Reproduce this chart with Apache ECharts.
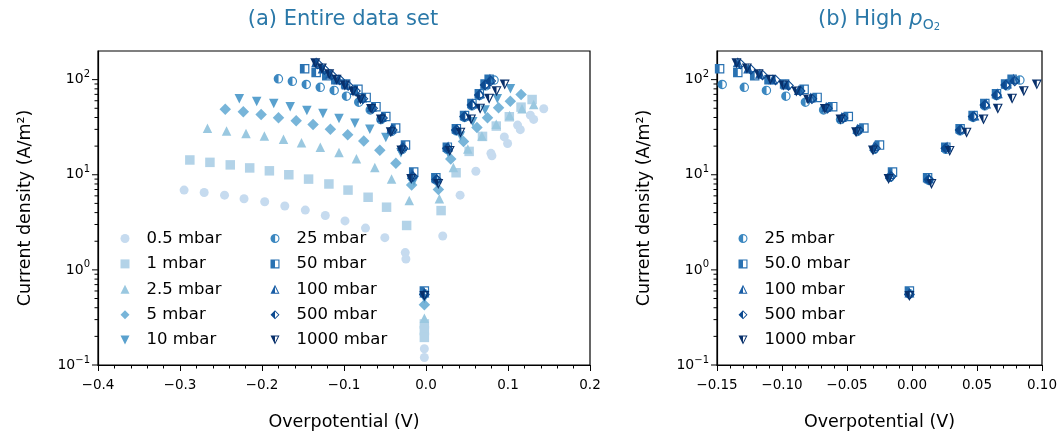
<!DOCTYPE html>
<html>
<head>
<meta charset="utf-8">
<script src="https://cdn.jsdelivr.net/npm/echarts@6/dist/echarts.min.js"></script>
<style>
  html, body { margin: 0; padding: 0; background: #fff; }
  #chart { width: 1063px; height: 436px; }
</style>
</head>
<body>
<div id="chart"></div>
<script>
// Current density (A/m²) against overpotential (V), one series per O2 partial pressure.
// Each point: [overpotential, current density].
const p0_5 = [[-0.295,6.9],[-0.2705,6.5],[-0.2457,6.1],[-0.2219,5.6],[-0.1967,5.2],[-0.1722,4.7],[-0.1472,4.25],[-0.1228,3.73],[-0.0988,3.27],[-0.0738,2.75],[-0.0502,2.18],[-0.0253,1.52],[-0.0245,1.3],[-0.002,0.148],[-0.002,0.12],[0.0204,2.27],[0.0416,6.1],[0.0608,10.9],[0.0792,16.8],[0.0804,15.8],[0.0955,25],[0.0995,21.3],[0.1117,33.3],[0.115,29.8],[0.1273,42.3],[0.1313,38.2],[0.1436,49.4]];
const p1 = [[-0.288,14.3],[-0.2635,13.5],[-0.2387,12.7],[-0.215,11.8],[-0.191,11.0],[-0.1673,10.0],[-0.1432,9.0],[-0.1184,8.0],[-0.0951,6.9],[-0.0706,5.8],[-0.0481,4.56],[-0.0236,2.93],[-0.002,0.27],[-0.002,0.23],[-0.002,0.195],[0.0184,4.2],[0.0367,10.5],[0.0526,17.6],[0.0689,25.3],[0.0857,32.5],[0.1016,40.7],[0.1159,51.4],[0.1294,61.8]];
const p2_5 = [[-0.2665,30.8],[-0.2432,28.8],[-0.2195,27.1],[-0.1971,25.6],[-0.1738,23.6],[-0.1518,21.7],[-0.1289,19.5],[-0.1061,17.1],[-0.0848,14.7],[-0.0624,11.9],[-0.042,9.0],[-0.0204,5.35],[-0.002,0.31],[0.0163,5.6],[0.0334,11.9],[0.051,18.6],[0.0682,25.6],[0.0857,33.9],[0.102,42],[0.1171,49.4],[0.1313,54.8]];
const p5 = [[-0.2448,48.7],[-0.2228,46],[-0.2011,43],[-0.1799,39.8],[-0.1583,37],[-0.1377,33.8],[-0.1166,30],[-0.0955,26.3],[-0.0759,22.7],[-0.0563,18.1],[-0.0367,13.2],[-0.0175,7.8],[-0.002,0.43],[0.0151,7.0],[0.0302,14.6],[0.0457,22.3],[0.0621,31.3],[0.075,39.8],[0.0885,50.6],[0.1028,59.3],[0.1159,69.7]];
const p10 = [[-0.2277,63],[-0.2065,59],[-0.1857,56],[-0.1656,52],[-0.1453,47.5],[-0.1257,44],[-0.1061,39],[-0.0867,34.7],[-0.0685,30],[-0.049,24.6],[-0.0306,17],[-0.0147,8.6],[-0.002,0.5],[0.013,8.2],[0.027,17],[0.042,25.5],[0.057,36],[0.072,48],[0.087,63],[0.103,80]];
const p25 = [[-0.180,102],[-0.163,96],[-0.146,89],[-0.129,83],[-0.112,77],[-0.097,67],[-0.082,58],[-0.068,48],[-0.055,38],[-0.042,28.5],[-0.029,18.5],[-0.017,9.4],[-0.002,0.56],[0.013,8.7],[0.026,18.5],[0.037,29],[0.047,40],[0.056,53],[0.065,68],[0.073,86],[0.083,99]];
const p50 = [[-0.148,130],[-0.134,119],[-0.121,110],[-0.110,100],[-0.098,90],[-0.083,79],[-0.073,65],[-0.061,52],[-0.049,41],[-0.037,31],[-0.025,20.5],[-0.015,10.7],[-0.002,0.6],[0.012,9.3],[0.026,19.5],[0.037,30.5],[0.047,42],[0.056,56],[0.065,71],[0.072,90],[0.077,101]];
const p100 = [[-0.134,152],[-0.126,131],[-0.117,115],[-0.107,101],[-0.097,89],[-0.087,78],[-0.078,65],[-0.066,52],[-0.054,40.5],[-0.042,30.5],[-0.029,20],[-0.017,10.2],[-0.002,0.58],[0.013,9.2],[0.027,19.8],[0.038,30.5],[0.048,42],[0.057,56],[0.066,72],[0.073,91],[0.078,102]];
const p500 = [[-0.132,146],[-0.124,128],[-0.115,112],[-0.105,99],[-0.095,87],[-0.086,76],[-0.077,63],[-0.065,50],[-0.053,39.5],[-0.041,29.5],[-0.028,19],[-0.016,9.6],[-0.002,0.55],[0.013,8.9],[0.026,19],[0.037,29.5],[0.047,41],[0.056,54],[0.065,69],[0.072,88],[0.079,97]];
const p1000 = [[-0.135,149],[-0.127,131],[-0.118,114],[-0.109,100],[-0.099,87],[-0.089,75],[-0.080,62],[-0.067,49],[-0.055,38],[-0.043,28],[-0.030,18],[-0.018,9.0],[-0.002,0.53],[0.015,8.0],[0.029,17.8],[0.042,27.7],[0.055,38.2],[0.066,49.4],[0.077,63],[0.086,75.5],[0.096,88.7]];

const namesAll = ['0.5 mbar','1 mbar','2.5 mbar','5 mbar','10 mbar','25 mbar','50 mbar','100 mbar','500 mbar','1000 mbar'];
const namesHigh = ['25 mbar','50.0 mbar','100 mbar','500 mbar','1000 mbar'];
const titleA = '(a) Entire data set';
const xName = 'Overpotential (V)';
const yName = 'Current density (A/m\u00b2)';

const xRangeA = [-0.4, 0.2], xStepA = 0.1;
const xRangeB = [-0.15, 0.10], xStepB = 0.05;
const yRange = [0.1, 200];
// major and minor ticks of the logarithmic current axis
const yTickValues = [0.1,0.2,0.3,0.4,0.5,0.6,0.7,0.8,0.9,1,2,3,4,5,6,7,8,9,10,20,30,40,50,60,70,80,90,100];

const FONT = 'DejaVu Sans';
const TITLE_COLOR = '#2a78a8';
const palette = ['#c6dbef','#b3d3e8','#9ac8e0','#78b5d9','#5aa1ce','#3b87c0','#2a72b2','#1a5ea6','#0c4a90','#08306b'];

// marker shapes; the half-filled ones have their right half cut out inside the outline
const triDown = 'path://M0 0L20 0L10 20Z';
const halfCircle = 'path://M10 0A10 10 0 1 1 10 20A10 10 0 1 1 10 0ZM10.3 2.506L10.3 17.494A7.5 7.5 0 0 0 10.3 2.506Z';
const halfSquare = 'path://M0 0L20 0L20 20L0 20ZM10 2.5L10 17.5L17.5 17.5L17.5 2.5Z';
const halfTriUp = 'path://M10 0L20 20L0 20ZM10 4.92L10 17.8L16.44 17.8Z';
const halfDiamond = 'path://M10 0L20 10L10 20L0 10ZM10 2.83L10 17.17L17.17 10Z';
const halfTriDown = 'path://M0 0L20 0L10 20ZM10 2.2L10 15.08L16.44 2.2Z';

const seriesDefs = [
  { data: p0_5, symbol: 'circle', size: 9 },
  { data: p1, symbol: 'rect', size: 9.5 },
  { data: p2_5, symbol: 'triangle', size: 9.5 },
  { data: p5, symbol: 'diamond', size: 11.5 },
  { data: p10, symbol: triDown, size: 9.5 },
  { data: p25, symbol: halfCircle, size: 9.5 },
  { data: p50, symbol: halfSquare, size: 9.5 },
  { data: p100, symbol: halfTriUp, size: 10 },
  { data: p500, symbol: halfDiamond, size: 11 },
  { data: p1000, symbol: halfTriDown, size: 10 }
];

function fmtX(digits) {
  return function (v) {
    if (Math.abs(v) < 1e-9) return (0).toFixed(digits);
    return (v < 0 ? '\u2212' : '') + Math.abs(v).toFixed(digits);
  };
}
function fmtY(v) {
  const l = Math.log10(v);
  const e = Math.round(l);
  if (Math.abs(l - e) > 1e-6) return '';
  return '{b|10}{s|' + (e < 0 ? '\u2212' : '') + Math.abs(e) + '}';
}

function xAxis(gridIndex, range, step, digits) {
  return {
    type: 'value', gridIndex, min: range[0], max: range[1], interval: step,
    name: xName, nameLocation: 'middle', nameGap: 48,
    nameTextStyle: { fontFamily: FONT, fontSize: 17.5, color: '#000' },
    axisLine: { show: true, onZero: false, lineStyle: { color: '#000', width: 1.2 } },
    axisTick: { show: true, inside: false, length: 6, lineStyle: { color: '#000', width: 1 } },
    minorTick: { show: true, splitNumber: 5, length: 3.5, lineStyle: { color: '#000', width: 1 } },
    splitLine: { show: false }, minorSplitLine: { show: false },
    axisLabel: { formatter: fmtX(digits), fontFamily: FONT, fontSize: 13.5, color: '#000', margin: 13, showMinLabel: true, showMaxLabel: true }
  };
}
function yAxis(gridIndex) {
  return {
    type: 'log', logBase: 10, gridIndex, min: yRange[0], max: yRange[1],
    name: yName, nameLocation: 'middle', nameGap: 64,
    nameTextStyle: { fontFamily: FONT, fontSize: 17.5, color: '#000' },
    axisLine: { show: true, onZero: false, lineStyle: { color: '#000', width: 1.2 } },
    axisTick: { show: false },
    splitLine: { show: false },
    axisLabel: {
      formatter: fmtY, margin: 8, showMaxLabel: false,
      rich: {
        b: { fontFamily: FONT, fontSize: 14, lineHeight: 20, color: '#000' },
        s: { fontFamily: FONT, fontSize: 10, lineHeight: 10, verticalAlign: 'top', color: '#000' }
      }
    }
  };
}

// tick marks of the log axis, placed through the axis scale
function yTickSeries(idx, xMin) {
  return {
    type: 'custom', xAxisIndex: idx, yAxisIndex: idx, silent: true, clip: false, z: 5,
    data: yTickValues.map(v => [xMin, v]),
    renderItem: function (params, api) {
      const v = api.value(1);
      const l = Math.log10(v);
      const major = Math.abs(l - Math.round(l)) < 1e-6;
      const p = api.coord([api.value(0), v]);
      const len = major ? 6 : 3.5;
      return { type: 'line', shape: { x1: p[0] - len, y1: p[1], x2: p[0], y2: p[1] }, style: { stroke: '#000', lineWidth: 1 } };
    }
  };
}

const series = [];
seriesDefs.forEach((d, i) => {
  series.push({
    type: 'scatter', name: namesAll[i], xAxisIndex: 0, yAxisIndex: 0,
    data: d.data, symbol: d.symbol, symbolSize: d.size,
    itemStyle: { color: palette[i], opacity: 1 },
    emphasis: { disabled: true }, clip: true
  });
});
seriesDefs.slice(5).forEach((d, j) => {
  const i = j + 5;
  series.push({
    type: 'scatter', name: namesHigh[j], xAxisIndex: 1, yAxisIndex: 1,
    data: d.data, symbol: d.symbol, symbolSize: d.size,
    itemStyle: { color: palette[i], opacity: 1 },
    emphasis: { disabled: true }, clip: true
  });
});
series.push(yTickSeries(0, xRangeA[0]));
series.push(yTickSeries(1, xRangeB[0]));

const legendText = { fontFamily: FONT, fontSize: 16.5, color: '#000', lineHeight: 16, padding: [0, 0, 0, 12] };
function legend(names, left) {
  return {
    data: names, orient: 'vertical', left: left, top: 230, itemWidth: 9, itemHeight: 9,
    itemGap: 8.4, padding: 0, textStyle: legendText, selectedMode: false
  };
}

const chart = echarts.init(document.getElementById('chart'), null, { renderer: 'canvas' });
chart.setOption({
  animation: false,
  backgroundColor: '#fff',
  textStyle: { fontFamily: FONT },
  title: [
    { text: titleA, left: 343, top: 8, textAlign: 'center', padding: 0,
      textStyle: { fontFamily: FONT, fontSize: 21, fontWeight: 'normal', color: TITLE_COLOR, lineHeight: 24 } },
    { text: '(b) High {i|p}{o|O}{t|2}', left: 879, top: 8, textAlign: 'center', padding: 0,
      textStyle: { fontFamily: FONT, fontSize: 21, fontWeight: 'normal', color: TITLE_COLOR, lineHeight: 24,
        rich: {
          i: { fontFamily: FONT, fontSize: 21, fontStyle: 'italic', color: TITLE_COLOR, lineHeight: 24 },
          o: { fontFamily: FONT, fontSize: 14, color: TITLE_COLOR, lineHeight: 15, verticalAlign: 'bottom' },
          t: { fontFamily: FONT, fontSize: 10, color: TITLE_COLOR, lineHeight: 6, verticalAlign: 'bottom' }
        } } }
  ],
  legend: [
    legend(namesAll.slice(0, 5), 120.5),
    legend(namesAll.slice(5), 270.5),
    legend(namesHigh, 738.5)
  ],
  grid: [
    { left: 98, right: 1063 - 590, top: 51, bottom: 436 - 367, show: true, borderColor: '#000', borderWidth: 1.2, backgroundColor: 'transparent' },
    { left: 717, right: 1063 - 1042, top: 51, bottom: 436 - 367, show: true, borderColor: '#000', borderWidth: 1.2, backgroundColor: 'transparent' }
  ],
  xAxis: [xAxis(0, xRangeA, xStepA, 1), xAxis(1, xRangeB, xStepB, 2)],
  yAxis: [yAxis(0), yAxis(1)],
  series: series
});
</script>
</body>
</html>
